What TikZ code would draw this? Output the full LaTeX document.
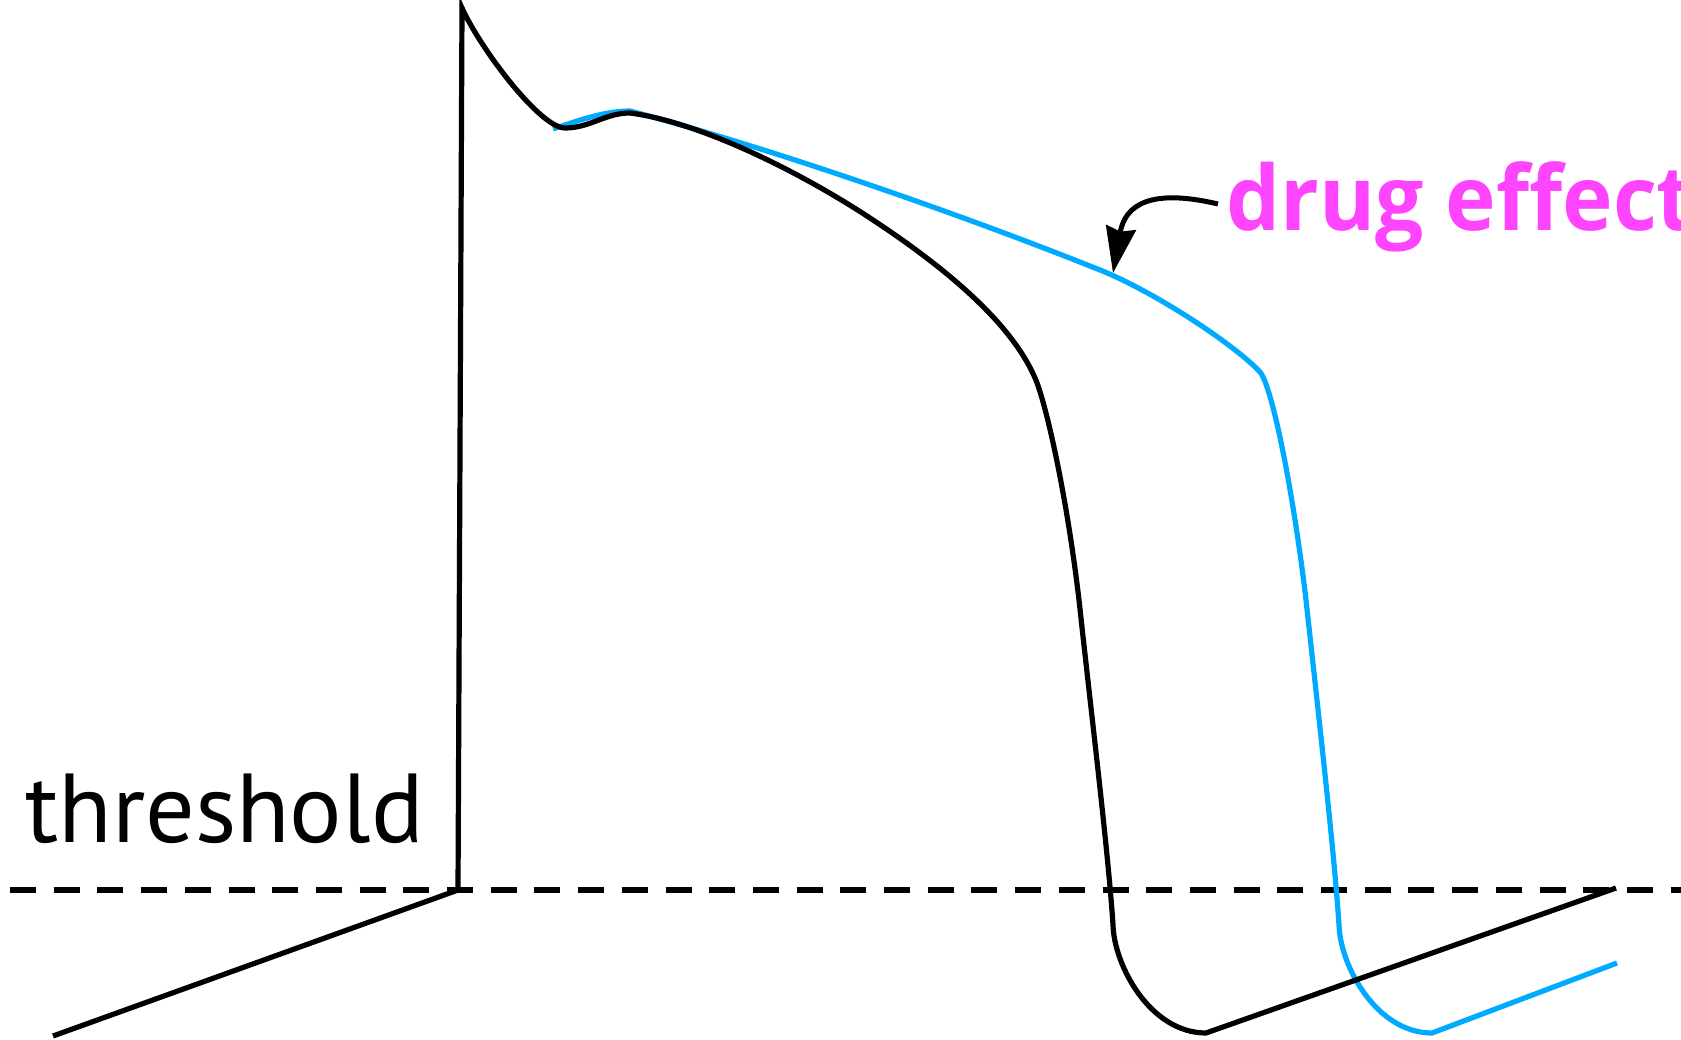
\documentclass[tikz,border=0pt]{standalone}
\usepackage{fontspec}
\setmainfont{PT Sans}
\newfontfamily\druglabelfont[FakeStretch=0.95]{Open Sans}
\usetikzlibrary{arrows.meta}
\definecolor{apblue}{HTML}{00AAFF}
\definecolor{drugmag}{HTML}{FF44FF}
\begin{document}
\begin{tikzpicture}[x=1pt,y=-1pt,
  trace/.style={line width=5.2pt, line join=miter},
  thresh/.style={line width=6.3pt, dash pattern=on 26pt off 17.7pt},
  lbl/.style={anchor=base west, inner sep=0pt, font=\fontsize{98}{110}\selectfont},
  druglbl/.style={anchor=base west, inner sep=0pt, text=drugmag, font=\druglabelfont\bfseries\fontsize{90}{110}\selectfont},
  pointer/.style={line width=5pt, -{Stealth[length=46pt,width=30pt,inset=4pt]}}]
\useasboundingbox (0,0) rectangle (1681,1040);
% threshold line
\coordinate (dl) at (10,890);
\coordinate (dr) at (1700,890);
\draw[thresh] (dl) -- (dr);
% drug trace (blue)
\draw[trace, apblue] (553,129) .. controls (580,120) and (605,111) .. (630,111)
  .. controls (760,145) and (950,210) .. (1100,270)
  .. controls (1155,292) and (1235,345) .. (1260,372)
  .. controls (1272,386) and (1293,490) .. (1306,600)
  .. controls (1318,710) and (1334,850) .. (1339,925)
  .. controls (1340,965) and (1376,1033) .. (1432,1033)
  -- (1617,963);
% control trace (black)
\draw[trace] (53,1036) -- (458,890) -- (462,8)
  .. controls (480,48) and (540,128) .. (565,128)
  .. controls (590,128) and (605,113) .. (630,113)
  .. controls (700,122) and (800,172) .. (870,218)
  .. controls (940,264) and (1010,320) .. (1035,378)
  .. controls (1045,400) and (1066,490) .. (1079,600)
  .. controls (1092,720) and (1108,850) .. (1113,925)
  .. controls (1114,965) and (1150,1033) .. (1206,1033)
  -- (1616,888);
% labels
\node[lbl] (thr) at (25,842) {threshold};
\node[druglbl] (drug) at (1226,231) {drug effect};
\coordinate (tail) at (1218,204);
\coordinate (tip) at (1113,273);
\draw[pointer] (tail) .. controls (1150,188) and (1125,205) .. (tip);
\end{tikzpicture}
\end{document}
